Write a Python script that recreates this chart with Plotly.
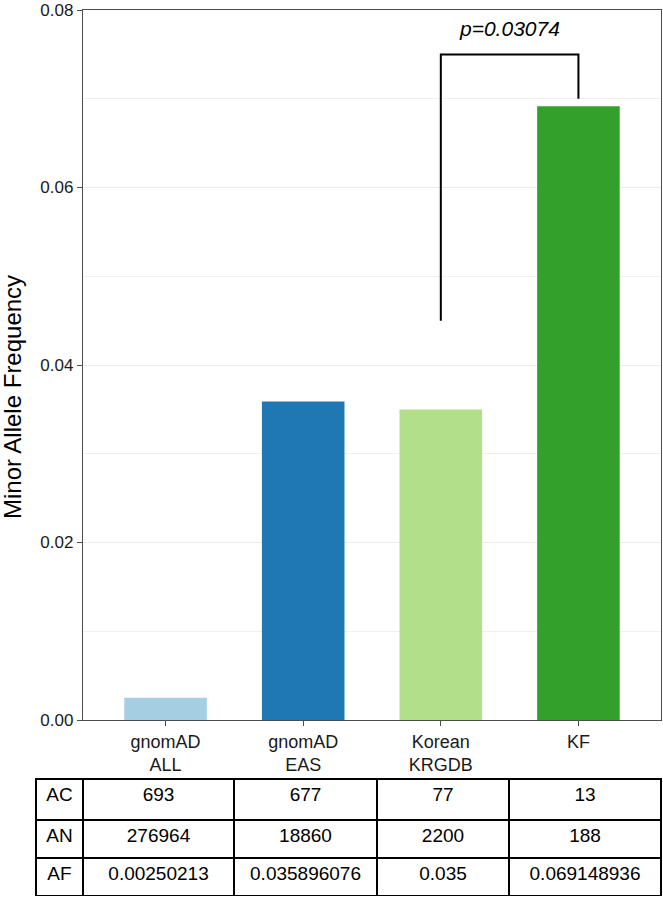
import plotly.graph_objects as go

# ---- data ----
categories = ["gnomAD<br>ALL", "gnomAD<br>EAS", "Korean<br>KRGDB", "KF"]
maf_values = [0.00250213, 0.035896076, 0.035, 0.069148936]
bar_colors = ["#A6CEE3", "#1F78B4", "#B2DF8A", "#33A02C"]

row_labels = ["AC", "AN", "AF"]
ac_values = [693, 677, 77, 13]
an_values = [276964, 18860, 2200, 188]
af_values = [0.00250213, 0.035896076, 0.035, 0.069148936]

bracket_x = ["Korean<br>KRGDB", "Korean<br>KRGDB", "KF", "KF"]
bracket_y = [0.045, 0.075, 0.075, 0.070]
p_label = "p=0.03074"
y_title = "Minor Allele Frequency"

y_ticks = [0.00, 0.02, 0.04, 0.06, 0.08]

FONT = "Liberation Sans, Arial, Helvetica, sans-serif"
W, H = 663, 897

fig = go.Figure()
fig.add_trace(go.Bar(
    x=categories, y=maf_values, marker=dict(color=bar_colors, line=dict(width=0)),
    width=0.6, showlegend=False, hoverinfo="x+y",
))
fig.add_trace(go.Scatter(
    x=bracket_x, y=bracket_y, mode="lines",
    line=dict(color="black", width=2), showlegend=False, hoverinfo="skip",
))
fig.add_annotation(
    x=2.5, y=0.0779, xref="x", yref="y", text="<i>" + p_label + "</i>",
    showarrow=False, font=dict(family=FONT, size=21, color="black"),
)
fig.add_annotation(
    x=12 / W, y=1 - 397 / H, xref="paper", yref="paper", text=y_title,
    textangle=-90, showarrow=False, xanchor="center", yanchor="middle",
    font=dict(family=FONT, size=24, color="black"),
)

# table: first row as the header
header_vals = [row_labels[0]] + [str(v) for v in ac_values]
cell_cols = [[row_labels[1], row_labels[2]]] + [
    [str(a), str(f)] for a, f in zip(an_values, af_values)
]
fig.add_trace(go.Table(
    domain=dict(x=[36 / W, 661 / W], y=[0, 1 - 779 / H]),
    columnwidth=[47, 151, 143, 132, 152],
    header=dict(values=header_vals, align="center", height=41,
                fill=dict(color="white"), line=dict(color="black", width=2),
                font=dict(family=FONT, size=19, color="black")),
    cells=dict(values=cell_cols, align="center", height=38,
               fill=dict(color="white"), line=dict(color="black", width=2),
               font=dict(family=FONT, size=19, color="black")),
))

fig.update_layout(
    width=W, height=H, autosize=False,
    margin=dict(l=0, r=0, t=0, b=0),
    paper_bgcolor="white", plot_bgcolor="white",
    font=dict(family=FONT, color="black"),
    xaxis=dict(
        domain=[83 / W, 661 / W], type="category", range=[-0.6, 3.6],
        showline=True, linecolor="#4D4D4D", linewidth=1.3, mirror=True,
        ticks="outside", ticklen=5, tickcolor="#4D4D4D", showgrid=False,
        tickfont=dict(family=FONT, size=18, color="#1A1A1A"), automargin=False,
    ),
    yaxis=dict(
        domain=[1 - 720 / H, 1 - 10 / H], range=[0, 0.08],
        tickvals=y_ticks, tickformat=".2f", ticklabeloverflow="allow",
        showline=True, linecolor="#4D4D4D", linewidth=1.3, mirror=True,
        ticks="outside", ticklen=5, tickcolor="#4D4D4D",
        showgrid=True, gridcolor="#EBEBEB", gridwidth=1.2, zeroline=False,
        minor=dict(dtick=0.01, showgrid=True, gridcolor="#F0F0F0", gridwidth=1),
        tickfont=dict(family=FONT, size=17, color="#1A1A1A"),
        automargin=False,
    ),
)

fig.write_html("out.html", config={"displayModeBar": False},
               post_script="document.body.style.margin='0px';")
